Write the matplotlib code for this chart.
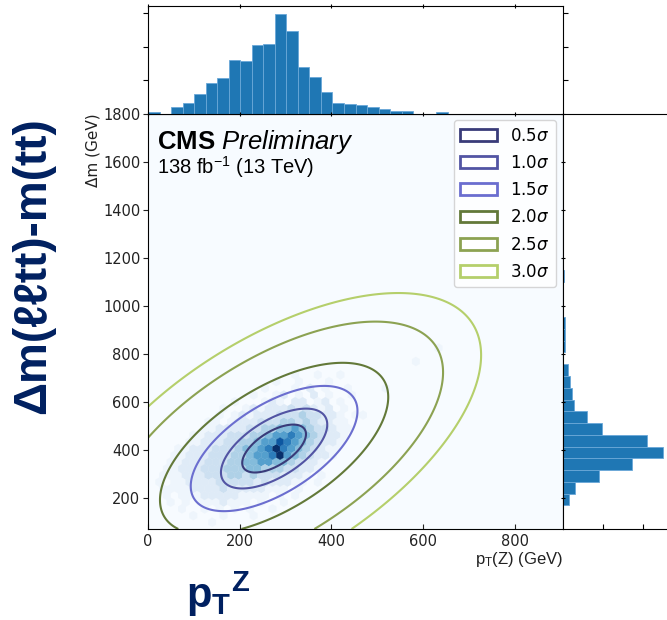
import numpy as np
import matplotlib.pyplot as plt
from matplotlib.patches import Rectangle
from matplotlib.colors import PowerNorm
from matplotlib.font_manager import FontProperties

plt.rcParams['mathtext.fontset'] = 'custom'
plt.rcParams['mathtext.rm'] = 'Liberation Sans'
plt.rcParams['mathtext.it'] = 'Liberation Sans:italic'
plt.rcParams['mathtext.bf'] = 'Liberation Sans:bold'

# osi
pt_range = (0, 905)
dm_range = (70, 1800)

# marginalna raspodjela pT(Z), 36 binova
pt_edges = np.linspace(0, 905, 37)
pt_counts = [5, 0, 18, 31, 59, 90, 107, 161, 158, 206, 209, 298, 247, 138, 110, 63,
             32, 29, 25, 18, 14, 8, 8, 0, 0, 5, 0, 0, 0, 0, 0, 0, 0, 0, 0, 0]

# marginalna raspodjela delta m, binovi od 49 GeV
dm_edges = np.linspace(70, 1834, 37)
dm_counts = [0, 0, 17, 35, 107, 206, 299, 251, 116, 72, 32, 28, 21, 14, 0, 7,
             7, 7, 0, 0, 0, 3, 0, 0, 0, 0, 0, 0, 0, 0, 0, 0, 0, 0, 0, 0]

# hexbin: razina (0-9) po redovima heksagonalne mreze, od gornjeg reda prema donjem
hex_gridsize = 55
hex_rows = [
    "0000000000000000000100100100",
    "0000000000000000010010001000",
    "0000000000000001000102010010",
    "0000000000000010012010201001",
    "0000000000010001210220120100",
    "0000000000100121222323212010",
    "0000000001012122233343322101",
    "0000000011012223334434322110",
    "0000000112222334455654332110",
    "0000001122233344566765432210",
    "0000011222334456687654322100",
    "0000112223334556797654321100",
    "0001122233344566796543221000",
    "0001122233344556655432210000",
    "0011222333444554443322100000",
    "0011122233344343332221010000",
    "0101122223333323222110100000",
    "0011112222322222111010000000",
    "0010111222221111010100000000",
    "0001010111211101001000000000",
    "0000100101010100100000000000",
    "0000001000100010000000000000",
    "0000000010000000000000000000",
]
# pojedinacne udaljene celije
extra_x = [582, 640, 470, 520]
extra_y = [775, 820, 560, 650]
extra_w = [1, 1, 1, 1]

# gaussov fit i konture
fit_mean = (275, 405)
fit_sigma = (122, 175)
fit_rho = 0.6
contour_radii = [0.57, 0.95, 1.49, 2.04, 3.02, 3.70]
contour_labels = [r'0.5$\sigma$', r'1.0$\sigma$', r'1.5$\sigma$',
                  r'2.0$\sigma$', r'2.5$\sigma$', r'3.0$\sigma$']
contour_colors = ['#393b79', '#5254a3', '#6b6ecf', '#637939', '#8ca252', '#b5cf6b']

navy = '#002060'
W, H = 667, 620

# sredista heksagona iz tablice
sx = (pt_range[1] - pt_range[0]) / hex_gridsize
sy = (dm_range[1] - dm_range[0]) / int(hex_gridsize / np.sqrt(3))
hx, hy, hw = [], [], []
nrows = len(hex_rows)
for i, row in enumerate(hex_rows):
    m = nrows - i
    for k, c in enumerate(row):
        if c != '0':
            hx.append(pt_range[0] + (k + 0.5 * (m % 2)) * sx)
            hy.append(dm_range[0] + m * sy / 2)
            hw.append(int(c))
hx += extra_x
hy += extra_y
hw += extra_w

fig = plt.figure(figsize=(6.67, 6.2), dpi=100)
x0, x1 = 148 / W, 563 / W
y0, y1 = 1 - 529 / H, 1 - 113.5 / H
ax = fig.add_axes([x0, y0, x1 - x0, y1 - y0])
ax_top = fig.add_axes([x0, y1, x1 - x0, 1 - 6 / H - y1], sharex=ax)
ax_r = fig.add_axes([x1, y0, (700 - 563) / W, y1 - y0], sharey=ax)

# glavni graf
ax.set_facecolor(plt.cm.Blues(0.0))
ax.hexbin(hx, hy, C=hw, reduce_C_function=np.sum, gridsize=hex_gridsize,
          extent=(*pt_range, *dm_range), cmap='Blues',
          norm=PowerNorm(gamma=1.4, vmin=0, vmax=9),
          linewidths=0.2, edgecolors='face')

gx, gy = np.meshgrid(np.linspace(*pt_range, 400), np.linspace(*dm_range, 400))
u = (gx - fit_mean[0]) / fit_sigma[0]
v = (gy - fit_mean[1]) / fit_sigma[1]
dist = np.sqrt((u**2 - 2 * fit_rho * u * v + v**2) / (1 - fit_rho**2))
ax.contour(gx, gy, dist, levels=contour_radii, colors=contour_colors, linewidths=1.5)

handles = [Rectangle((0, 0), 1, 1, facecolor='white', edgecolor=c, lw=2) for c in contour_colors]
ax.legend(handles, contour_labels, loc='upper right', borderaxespad=0.4,
          handlelength=2.2, labelspacing=0.55,
          prop=FontProperties(family='DejaVu Sans', size=12, math_fontfamily='dejavusans'))

ax.set_xlim(pt_range)
ax.set_ylim(dm_range)
ax.set_xticks([0, 200, 400, 600, 800])
ax.set_yticks(np.arange(200, 1801, 200))
ax.tick_params(axis='y', direction='out', length=3.5, pad=2, labelsize=10.5, colors='#222222')
ax.tick_params(axis='x', direction='in', labelsize=10.5, colors='#222222')
ax.set_xlabel(r'p$_\mathrm{T}$(Z) (GeV)', loc='right', fontsize=12,
              family='Liberation Sans', color='#222222', labelpad=1)
ax.set_ylabel('Δm (GeV)', loc='top', fontsize=11, color='#222222', labelpad=2)

ax.text(0.022, 0.915, r'$\mathbf{CMS}$ $\mathit{Preliminary}$', transform=ax.transAxes,
        fontsize=18.5, family='Liberation Sans', va='baseline')
ax.text(0.022, 0.854, r'138 fb$^{-1}$ (13 TeV)', transform=ax.transAxes,
        fontsize=14.5, family='Liberation Sans', va='baseline')

# gornji histogram
ax_top.hist(pt_edges[:-1], bins=pt_edges, weights=pt_counts, color='#1f77b4',
            edgecolor='#6aa8d8', linewidth=0.6)
ax_top.set_ylim(0, 321)
ax_top.set_yticks([100, 200, 300])
ax_top.tick_params(axis='x', top=True, bottom=True, direction='inout', labelbottom=False)
ax_top.tick_params(axis='y', left=True, right=True, direction='out', labelleft=False)

# desni histogram
ax_r.hist(dm_edges[:-1], bins=dm_edges, weights=dm_counts, orientation='horizontal',
          color='#1f77b4', edgecolor='#6aa8d8', linewidth=0.6)
ax_r.set_xlim(0, 411)
ax_r.set_xticks([120, 240])
ax_r.tick_params(axis='y', left=True, direction='inout', labelleft=False)
ax_r.tick_params(axis='x', direction='in', labelbottom=False)

# veliki naslovi osi
fig.text(33 / W, 1 - 266 / H, 'Δm(ℓℓtt)-m(tt)', rotation=90, ha='center', va='center',
         fontsize=33, fontweight='bold', color=navy, family=['Liberation Sans', 'DejaVu Sans'])
fig.text(186 / W, 1 - 594 / H, r'$\mathbf{p_T{}^Z}$', ha='left', va='center',
         fontsize=30, color=navy)

fig.savefig('out.png', dpi=100)
